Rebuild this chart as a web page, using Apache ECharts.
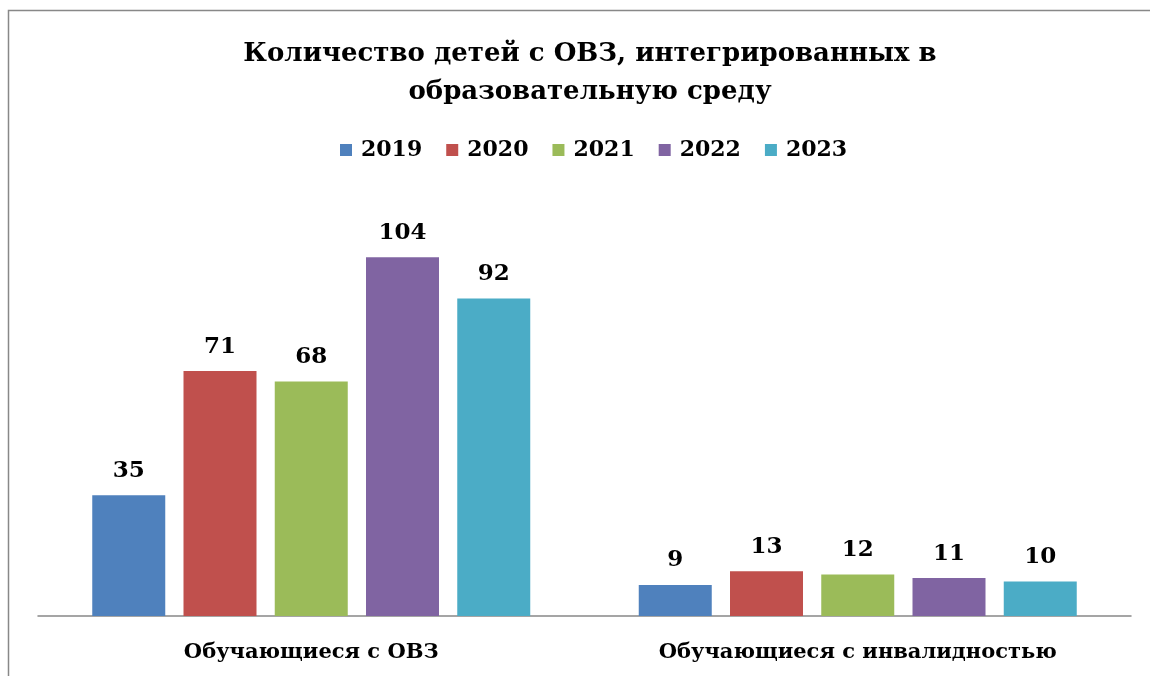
<!DOCTYPE html>
<html style="height: 100%">
<head>
    <meta charset="utf-8">
    <title>Количество детей с ОВЗ</title>
    <script src="https://cdn.jsdelivr.net/npm/echarts@6.0.0/dist/echarts.min.js"></script>
</head>
<body style="height: 100%; margin: 0; background: #fff">
<div id="container" style="width: 1150px; height: 676px"></div>
<script>
    var categories = ['Обучающиеся с ОВЗ', 'Обучающиеся с инвалидностью'];
    var years = ['2019', '2020', '2021', '2022', '2023'];
    var v2019 = [35, 9];
    var v2020 = [71, 13];
    var v2021 = [68, 12];
    var v2022 = [104, 11];
    var v2023 = [92, 10];
    var values = [v2019, v2020, v2021, v2022, v2023];
    var colors = ['#4f81bd', '#c0504d', '#9bbb59', '#8064a2', '#4bacc6'];

    var font = '"DejaVu Serif", "Liberation Serif", serif';
    var chart = echarts.init(document.getElementById('container'));

    var series = years.map(function (y, i) {
        return {
            name: y,
            type: 'bar',
            data: values[i],
            barWidth: 73,
            barGap: '25%',
            itemStyle: { color: colors[i] },
            label: {
                show: true,
                position: 'top',
                distance: 13,
                color: '#000',
                fontFamily: font,
                fontWeight: 'bold',
                fontSize: 23
            }
        };
    });

    var option = {
        animation: false,
        title: {
            text: 'Количество детей с ОВЗ, интегрированных в\nобразовательную среду',
            left: 585,
            textAlign: 'center',
            top: 30,
            textStyle: {
                fontFamily: font,
                fontWeight: 'bold',
                fontSize: 26,
                lineHeight: 38,
                color: '#000'
            }
        },
        legend: {
            top: 134,
            left: 335,
            itemWidth: 12,
            itemHeight: 12,
            itemGap: 24,
            icon: 'rect',
            textStyle: {
                fontFamily: font,
                fontWeight: 'bold',
                fontSize: 22,
                color: '#000',
                padding: [0, 0, 0, 4]
            },
            data: years
        },
        graphic: [{
            type: 'rect',
            shape: { x: 8.5, y: 10.5, width: 1200, height: 700 },
            style: { fill: 'none', stroke: '#888', lineWidth: 1.5 },
            silent: true
        }],
        grid: { left: 38, right: 19, top: 202, bottom: 60 },
        xAxis: {
            type: 'category',
            data: categories,
            axisTick: { show: false },
            axisLine: { lineStyle: { color: '#888', width: 1.5 } },
            axisLabel: {
                margin: 26,
                color: '#000',
                fontFamily: font,
                fontWeight: 'bold',
                fontSize: 21
            }
        },
        yAxis: {
            type: 'value',
            min: 0,
            max: 120,
            show: false,
            splitLine: { show: false }
        },
        series: series
    };
    chart.setOption(option);
</script>
</body>
</html>
